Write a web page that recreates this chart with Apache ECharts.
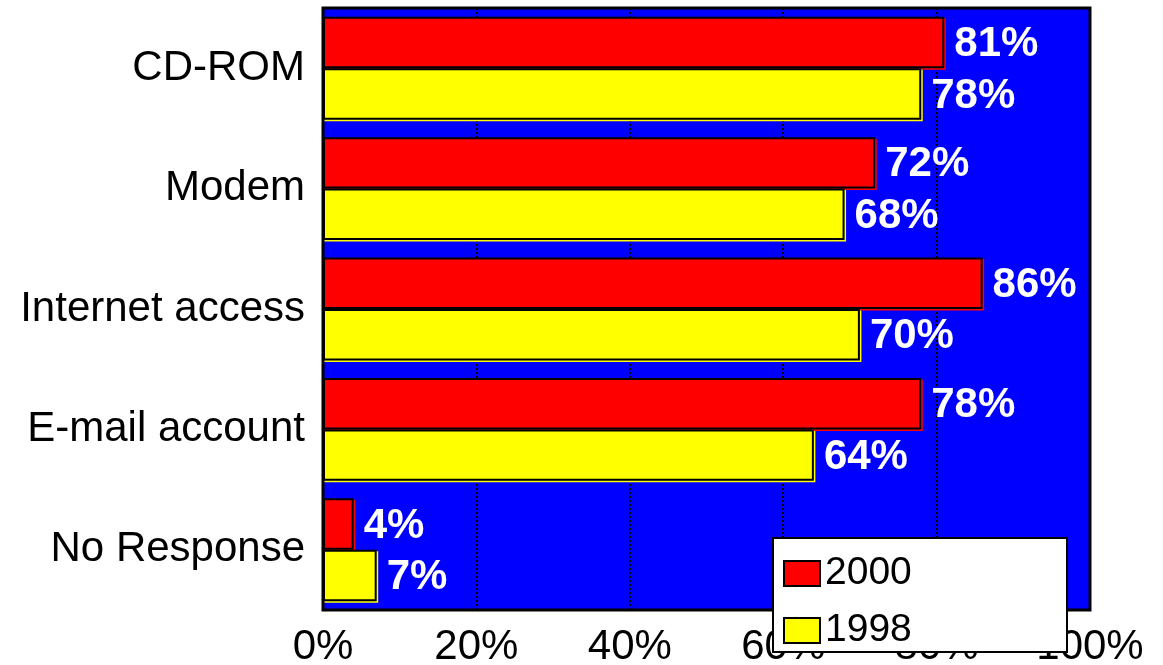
<!DOCTYPE html>
<html><head><meta charset="utf-8">
<script src="https://cdn.jsdelivr.net/npm/echarts@6/dist/echarts.min.js"></script>
<style>html,body{margin:0;padding:0;background:#fff}#c{width:1163px;height:665px}</style>
</head><body><div id="c"></div>
<script>
const categories = ['CD-ROM', 'Modem', 'Internet access', 'E-mail account', 'No Response'];
const values2000 = [81, 72, 86, 78, 4];
const values1998 = [78, 68, 70, 64, 7];
const xTicks = [0, 20, 40, 60, 80, 100];
const FONT = '"Liberation Sans", Arial, sans-serif';

const chart = echarts.init(document.getElementById('c'), null, {renderer: 'canvas'});
function barSeries(name, data, color) {
  return {
    name, type: 'bar', data,
    barGap: '0%', barCategoryGap: '14.5%',
    itemStyle: {color, borderColor: '#000', borderWidth: 2, shadowColor: color, shadowOffsetX: 1.5, shadowOffsetY: 1.5, shadowBlur: 0},
    label: {show: true, position: 'right', distance: 10, offset: [0, 2], formatter: '{c}%', color: '#fff', fontWeight: 'bold', fontSize: 42, fontFamily: FONT}
  };
}
chart.setOption({
  animation: false,
  textStyle: {fontFamily: FONT},
  grid: {left: 323, right: 73, top: 8, bottom: 55, show: true, backgroundColor: '#0000FF', borderColor: '#000', borderWidth: 3, z: 0, containLabel: false, outerBoundsMode: 'none'},
  xAxis: {
    type: 'value', min: xTicks[0], max: xTicks[xTicks.length - 1], interval: 20,
    axisLine: {show: false}, axisTick: {show: false},
    axisLabel: {formatter: '{value}%', fontSize: 42, color: '#000', margin: 16, fontFamily: FONT},
    splitLine: {show: true, lineStyle: {color: '#000', type: [2, 2], width: 2}}
  },
  yAxis: {
    type: 'category', data: categories, inverse: true,
    axisLine: {show: false}, axisTick: {show: false},
    axisLabel: {fontSize: 42, color: '#000', margin: 18, fontFamily: FONT}
  },
  legend: {
    orient: 'vertical', left: 778, top: 549, z: 10,
    itemWidth: 36, itemHeight: 25, itemGap: 18, icon: 'rect',
    textStyle: {fontSize: 39, color: '#000', fontFamily: FONT},
    data: ['2000', '1998']
  },
  graphic: [{type: 'rect', z: 9, left: 772, top: 537, shape: {width: 294, height: 114}, style: {fill: '#fff', stroke: '#000', lineWidth: 2}}],
  series: [barSeries('2000', values2000, '#FF0000'), barSeries('1998', values1998, '#FFFF00')]
});
</script></body></html>
